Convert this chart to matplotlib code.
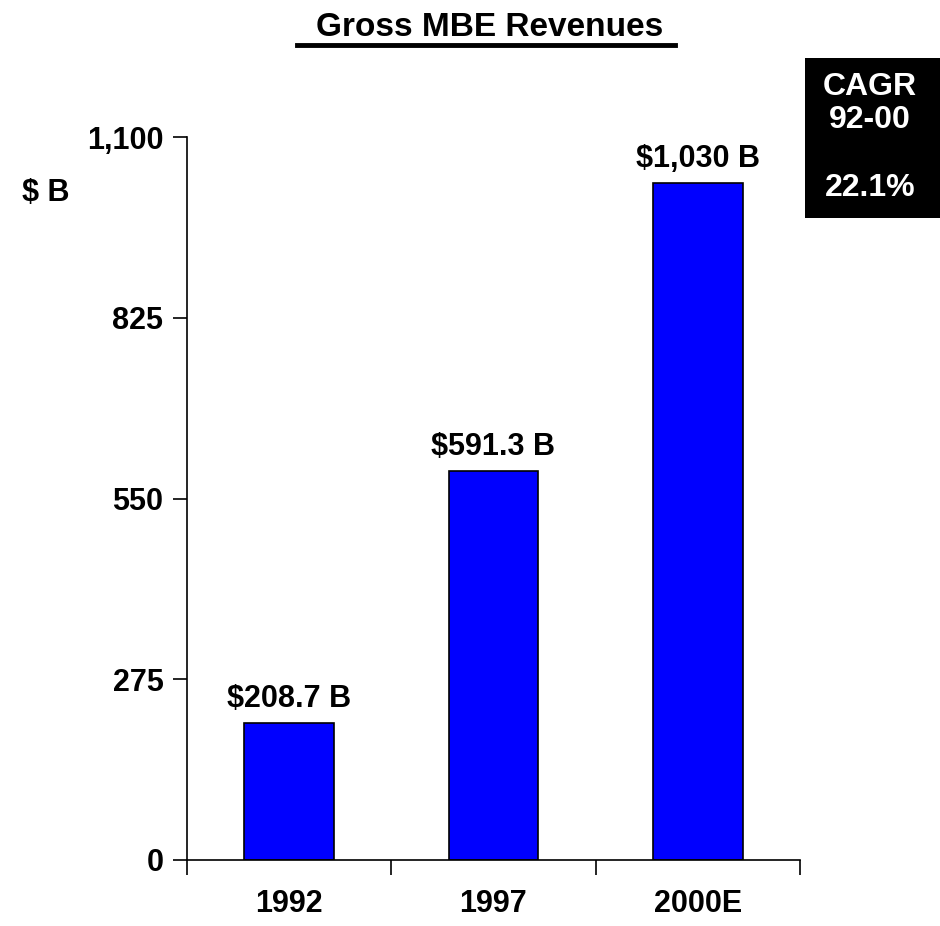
import matplotlib
matplotlib.use("Agg")
import matplotlib.pyplot as plt
from matplotlib.patches import Rectangle
from matplotlib.lines import Line2D

years = ["1992", "1997", "2000E"]
revenues = [208.7, 591.3, 1030.0]
bar_labels = ["$208.7 B", "$591.3 B", "$1,030 B"]
y_ticks = [0, 275, 550, 825, 1100]
y_tick_labels = ["0", "275", "550", "825", "1,100"]

plt.rcParams['font.family'] = ['Liberation Sans', 'DejaVu Sans']
plt.rcParams['font.weight'] = 'bold'

fig = plt.figure(figsize=(9.4, 9.26), dpi=100)
ax = fig.add_axes([0.199, 0.0713, 0.652, 0.7807])

x = list(range(len(years)))
ax.bar(x, revenues, width=0.44, color="#0000FF", edgecolor="black", linewidth=1.2)
for i in range(len(years)):
	ax.text(x[i], revenues[i] + 14, bar_labels[i], ha="center", va="bottom",
		fontsize=22, fontweight="bold")

ax.set_xlim(-0.5, len(years) - 0.5)
ax.set_ylim(0, 1100)
ax.set_yticks(y_ticks)
ax.set_yticklabels(y_tick_labels, fontsize=22, fontweight="bold")
# category labels sit between the boundary ticks
ax.set_xticks([i - 0.5 for i in range(len(years) + 1)])
ax.set_xticklabels([])
ax.set_xticks(x, minor=True)
ax.set_xticklabels(years, minor=True, fontsize=22, fontweight="bold")
ax.tick_params(axis="x", which="minor", length=0, pad=21)
ax.tick_params(axis="x", which="major", length=11, width=1.2, direction="out")
ax.tick_params(axis="y", length=10, width=1.2, direction="out", pad=7)
ax.spines["top"].set_visible(False)
ax.spines["right"].set_visible(False)
ax.spines["left"].set_linewidth(1.2)
ax.spines["bottom"].set_linewidth(1.2)

# title with underline
fig.text(490 / 940, 1 - 27 / 926, "Gross MBE Revenues", ha="center", va="center",
	fontsize=24, fontweight="bold")
fig.add_artist(Line2D([297 / 940, 675 / 940], [1 - 45 / 926, 1 - 45 / 926],
	color="black", linewidth=3.5))

fig.text(22 / 940, 1 - 193 / 926, "$ B", ha="left", va="center",
	fontsize=22, fontweight="bold")

# CAGR box
fig.add_artist(Rectangle((805 / 940, 1 - 218 / 926), 135 / 940, 160 / 926,
	facecolor="black", edgecolor="none"))
fig.text(870 / 940, 1 - 87 / 926, "CAGR", ha="center", va="center", color="white",
	fontsize=23, fontweight="bold")
fig.text(870 / 940, 1 - 120 / 926, "92-00", ha="center", va="center", color="white",
	fontsize=23, fontweight="bold")
fig.text(870 / 940, 1 - 188 / 926, "22.1%", ha="center", va="center", color="white",
	fontsize=23, fontweight="bold")

fig.savefig("out.png", dpi=100)
